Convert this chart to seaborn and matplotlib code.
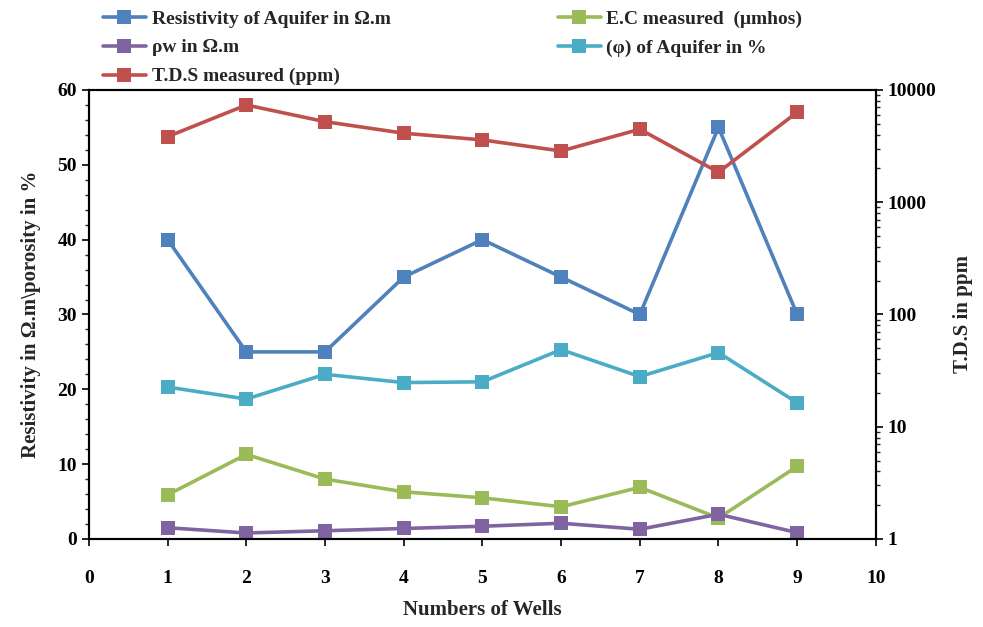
import numpy as np
import pandas as pd
import matplotlib
matplotlib.use("Agg")
import matplotlib.pyplot as plt
from matplotlib.ticker import FixedLocator, FixedFormatter, LogLocator, MultipleLocator, NullFormatter
from matplotlib.lines import Line2D
import seaborn as sns

# ---- data ----
wells = [1, 2, 3, 4, 5, 6, 7, 8, 9]
resistivity = [40, 25, 25, 35, 40, 35, 30, 55, 30]
ec_measured = [5.9, 11.3, 8.0, 6.3, 5.5, 4.3, 6.9, 2.8, 9.7]
rho_w = [1.5, 0.8, 1.1, 1.4, 1.7, 2.1, 1.3, 3.3, 0.85]
porosity = [20.3, 18.7, 22.0, 20.9, 21.0, 25.3, 21.7, 24.9, 18.2]
tds = [3840, 7350, 5220, 4120, 3590, 2860, 4470, 1850, 6330]

labels = {
    "res": "Resistivity of Aquifer in \u03a9.m",
    "ec": "E.C measured  (\u03bcmhos)",
    "rw": "\u03c1w in \u03a9.m",
    "phi": "(\u03c6) of Aquifer in %",
    "tds": "T.D.S measured (ppm)",
}
colors = {
    "res": "#4F81BD",
    "ec": "#9BBB59",
    "rw": "#8064A2",
    "phi": "#4BACC6",
    "tds": "#C0504D",
}

sns.set_style("white")
plt.rcParams["font.family"] = ["Liberation Serif", "DejaVu Serif"]
plt.rcParams["font.weight"] = "bold"

fig = plt.figure(figsize=(9.83, 6.27), dpi=100)
ax = fig.add_axes([0.0905, 0.1404, 0.8005, 0.7161])
ax2 = ax.twinx()

lw = 2.6
ms = 10
left_series = [("res", resistivity), ("ec", ec_measured), ("rw", rho_w), ("phi", porosity)]
for key, vals in left_series:
    df = pd.DataFrame({"well": wells, "v": vals})
    sns.lineplot(data=df, x="well", y="v", ax=ax, color=colors[key], marker="s",
                 markersize=ms, markeredgewidth=0, linewidth=lw, legend=False)

df_tds = pd.DataFrame({"well": wells, "v": tds})
sns.lineplot(data=df_tds, x="well", y="v", ax=ax2, color=colors["tds"], marker="s",
             markersize=ms, markeredgewidth=0, linewidth=lw, legend=False)

# left axis
ax.set_xlim(0, 10)
ax.set_ylim(0, 60)
ax.xaxis.set_major_locator(MultipleLocator(1))
ax.yaxis.set_major_locator(MultipleLocator(10))
ax.yaxis.set_minor_locator(MultipleLocator(2))
ax.tick_params(axis="both", which="major", direction="out", length=5, width=1.2,
               labelsize=14, colors="black", bottom=True, left=True)
ax.tick_params(axis="y", which="minor", direction="out", length=3, width=1, left=True)
ax.tick_params(axis="x", pad=17)
ax.set_xlabel("Numbers of Wells", fontsize=15, fontweight="bold", labelpad=10)
ax.set_ylabel("Resistivity in \u03a9.m\\porosity in %", fontsize=15, fontweight="bold", labelpad=12)

# right axis
ax2.set_yscale("log")
ax2.set_ylim(1, 10000)
ax2.yaxis.set_major_locator(FixedLocator([1, 10, 100, 1000, 10000]))
ax2.yaxis.set_major_formatter(FixedFormatter(["1", "10", "100", "1000", "10000"]))
ax2.yaxis.set_minor_locator(LogLocator(base=10, subs=np.arange(2, 10)))
ax2.yaxis.set_minor_formatter(NullFormatter())
ax2.tick_params(axis="y", which="major", direction="out", length=5, width=1.2,
                labelsize=14, colors="black", right=True)
ax2.tick_params(axis="y", which="minor", direction="out", length=3, width=1, right=True)
ax2.set_ylabel("T.D.S in ppm", fontsize=15, fontweight="bold", rotation=90, labelpad=12)
ax2.set_xlabel("")

for a in (ax, ax2):
    for sp in a.spines.values():
        sp.set_color("black")
        sp.set_linewidth(1.5)
    for lab in a.get_xticklabels() + a.get_yticklabels():
        lab.set_fontweight("bold")

# legend (column-major order)
order = ["res", "rw", "tds", "ec", "phi"]
handles = [Line2D([0], [0], color=colors[k], marker="s", markersize=ms, markeredgewidth=0,
                  linewidth=lw) for k in order]
fig.legend(handles, [labels[k] for k in order], ncol=2, frameon=False,
           loc="upper left", bbox_to_anchor=(0.087, 1.012), columnspacing=8.6,
           handlelength=2.2, handletextpad=0.3, labelspacing=0.58,
           prop={"family": "Liberation Serif", "weight": "bold", "size": 14})

fig.savefig("out.png", dpi=100, facecolor="white")
